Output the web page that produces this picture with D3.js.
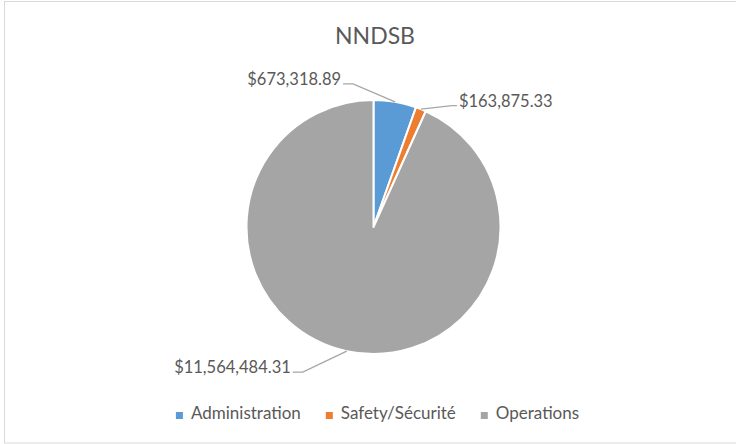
<!DOCTYPE html>
<html>
<head>
<meta charset="utf-8">
<script src="https://cdn.jsdelivr.net/npm/d3@7"></script>
<style>
  html, body { margin: 0; padding: 0; background: #fff; }
  svg { display: block; }
  text { font-family: Lato, "Open Sans", sans-serif; }
  .lbl { font-variant-numeric: tabular-nums; font-feature-settings: "tnum" 1; }
</style>
</head>
<body>
<svg id="chart" width="736" height="444"></svg>
<script>
// ---- data ----
const title = "NNDSB";
const categories = ["Administration", "Safety/Sécurité", "Operations"];
const values = [673318.89, 163875.33, 11564484.31];
const labels = ["$673,318.89", "$163,875.33", "$11,564,484.31"];
const colors = ["#5B9BD5", "#ED7D31", "#A5A5A5"];

// ---- label layout (leader elbows, relative to slice edge) ----
const elbowOffsets = [[-42, -18], [31, -3.5], [-44, 21]];
const tailLength = [-10, 5, -10];

const svg = d3.select("#chart");
const cx = 373.5, cy = 227, R = 127;

svg.append("rect")
  .attr("x", 4.5).attr("y", 1.5)
  .attr("width", 740).attr("height", 441.5)
  .attr("fill", "#fff").attr("stroke", "#D9D9D9").attr("stroke-width", 1);

svg.append("text")
  .attr("x", 375).attr("y", 44)
  .attr("text-anchor", "middle")
  .attr("font-size", 23)
  .attr("fill", "#595959")
  .text(title);

const data = categories.map((c, i) => ({ cat: c, value: values[i], label: labels[i], color: colors[i], i }));

const pie = d3.pie().sort(null).value(d => d.value).startAngle(0).endAngle(2 * Math.PI);
const arcs = pie(data);
const arc = d3.arc().innerRadius(0).outerRadius(R);

const g = svg.append("g").attr("transform", `translate(${cx},${cy})`);
g.selectAll("path.slice")
  .data(arcs)
  .join("path")
  .attr("class", "slice")
  .attr("d", arc)
  .attr("fill", d => d.data.color)
  .attr("stroke", "#fff")
  .attr("stroke-width", 2)
  .attr("stroke-linejoin", "round");

// labels with leader lines
arcs.forEach((a, i) => {
  const mid = (a.startAngle + a.endAngle) / 2;
  const ex = Math.sin(mid) * R, ey = -Math.cos(mid) * R;
  const bx = ex + elbowOffsets[i][0], by = ey + elbowOffsets[i][1];
  const tx = bx + tailLength[i];
  g.append("polyline")
    .attr("points", `${ex},${ey} ${bx},${by} ${tx},${by}`)
    .attr("fill", "none")
    .attr("stroke", "#A6A6A6")
    .attr("stroke-width", 1.3);
  const right = tailLength[i] > 0;
  g.append("text")
    .attr("class", "lbl")
    .attr("x", tx + (right ? 2 : -2))
    .attr("y", by + 1)
    .attr("text-anchor", right ? "start" : "end")
    .attr("font-size", 16.5)
    .attr("fill", "#595959")
    .text(a.data.label);
});

// legend
const legend = svg.append("g");
const items = legend.selectAll("g.item").data(data).join("g").attr("class", "item");
items.append("rect")
  .attr("width", 7).attr("height", 7)
  .attr("y", -7)
  .attr("fill", d => d.color);
items.append("text")
  .attr("x", 15).attr("y", 0)
  .attr("font-size", 17)
  .attr("fill", "#595959")
  .text(d => d.cat);
let xPos = 0;
const gap = 25;
items.each(function () {
  const w = 15 + d3.select(this).select("text").node().getComputedTextLength();
  d3.select(this).attr("transform", `translate(${xPos},0)`);
  xPos += w + gap;
});
const totalW = xPos - gap;
legend.attr("transform", `translate(${377.5 - totalW / 2},${419})`);
</script>
</body>
</html>
